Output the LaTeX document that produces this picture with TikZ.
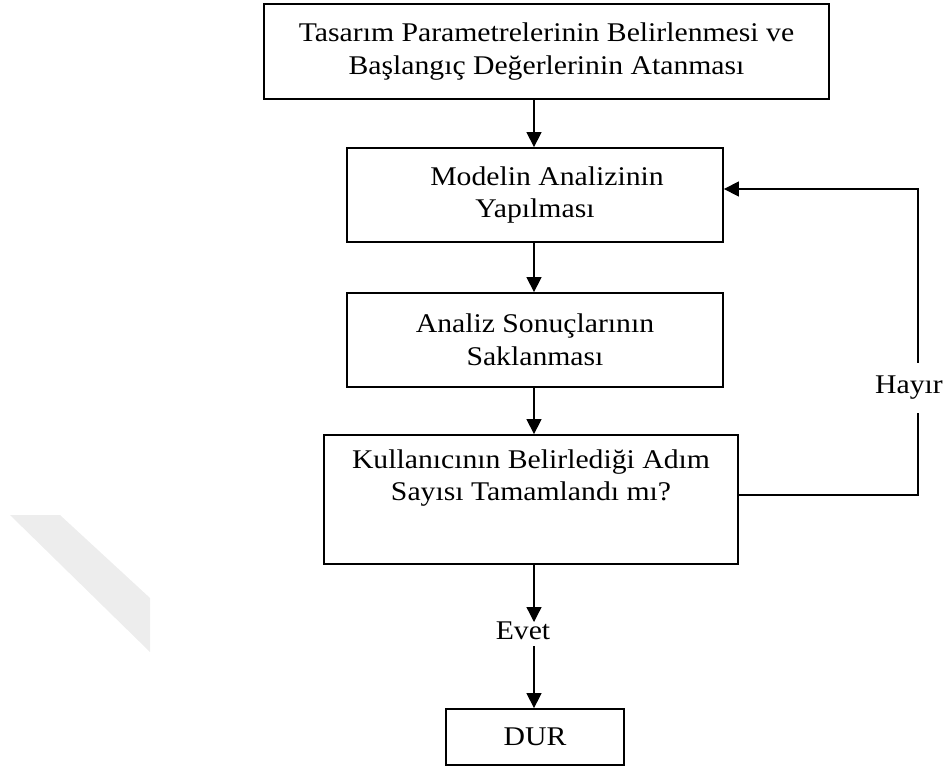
\documentclass[tikz,border=0pt]{standalone}
\usepackage{fontspec}
\setmainfont{Liberation Serif}[FakeStretch=1.1]
\usetikzlibrary{arrows.meta}
\begin{document}
\begin{tikzpicture}[x=1pt,y=-1pt,
  txt/.style={font=\fontsize{27}{32.5}\selectfont, align=center, inner sep=0pt, text=black},
  box/.style={txt, draw, line width=1.8pt, rectangle},
  flow/.style={line width=1.3pt, -{Triangle[length=15pt,width=15pt]}},
  lbl/.style={font=\fontsize{27}{32.5}\selectfont, inner sep=0pt, text=black}]
\useasboundingbox (0,0) rectangle (945,769);

% faint diagonal band on the left
\fill[black!7] (10,515) -- (60,515) -- (150,598) -- (150,652) -- cycle;

% main axis of the flow
\coordinate (axis) at (534,0);

% process boxes
\node[box, minimum width=565pt, minimum height=95pt] (b1) at (546.5,51.5)
  {Tasarım Parametrelerinin Belirlenmesi ve\\Başlangıç Değerlerinin Atanması};
\node[box, minimum width=376pt, minimum height=94pt] (b2) at (535,195)
  {\hspace*{24pt}Modelin Analizinin\\Yapılması};
\node[box, minimum width=376pt, minimum height=94pt] (b3) at (535,340)
  {Analiz Sonuçlarının\\Saklanması};
\node[box, minimum width=414pt, minimum height=129pt] (b4) at (531,499.5) {};
\node[txt] (b4t) at (531,478)
  {Kullanıcının Belirlediği Adım\\Sayısı Tamamlandı mı?};
\node[box, minimum width=178pt, minimum height=56pt] (dur) at (535,737) {DUR};

% answer labels
\node[lbl] (evet) at (523,631) {Evet};
\coordinate (e1) at (534,622);
\coordinate (e2) at (534,646);
\coordinate (fb1) at (918,495);
\coordinate (fb2) at (918,189);

% connectors
\draw[flow] (b1.south -| axis) -- (b2.north -| axis);
\draw[flow] (b2.south -| axis) -- (b3.north -| axis);
\draw[flow] (b3.south -| axis) -- (b4.north -| axis);
\draw[flow] (b4.south -| axis) -- (e1);
\draw[flow] (e2) -- (dur.north -| axis);
\draw[flow] (b4.east |- fb1) -- (fb1) -- (fb2) -- (b2.east |- fb2);
\node[lbl, fill=white, inner xsep=1pt, inner ysep=13pt] (hayir) at (909,388) {Hayır};
\end{tikzpicture}
\end{document}
